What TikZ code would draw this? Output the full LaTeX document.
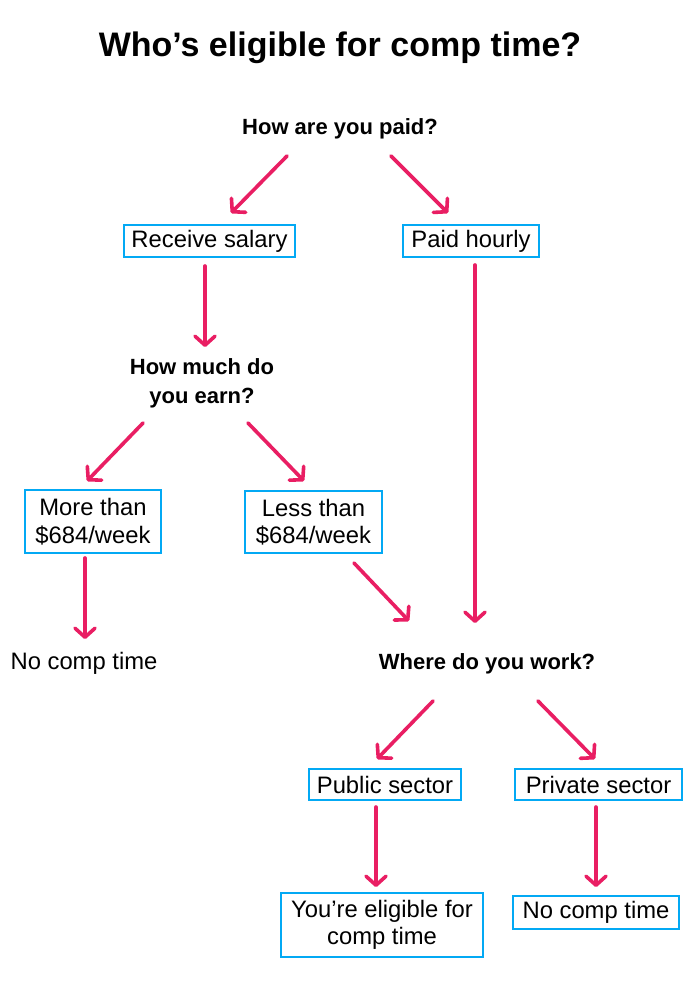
\documentclass[tikz,border=0pt]{standalone}
\usepackage{fontspec}
\setmainfont{Liberation Sans}
\usetikzlibrary{arrows.meta}
\definecolor{arrowpink}{HTML}{E91E63}
\definecolor{boxblue}{HTML}{03A9F4}
\begin{document}
\begin{tikzpicture}[x=1pt,y=-1pt,
  boxnode/.style={draw=boxblue,line width=2.8pt,inner sep=0pt,align=center,
    font=\fontsize{23.8}{27.5}\selectfont},
  question/.style={inner sep=0pt,align=center,font=\bfseries\fontsize{22}{29}\selectfont},
  plain/.style={inner sep=0pt,align=center,font=\fontsize{23.8}{27.5}\selectfont},
  flowarrow/.style={draw=arrowpink,line width=3.6pt,line cap=round,
    -{Straight Barb[length=9pt,width=20pt,round]}}]
\useasboundingbox[fill=white] (0,0) rectangle (700,1001);

\node[inner sep=0pt,font=\bfseries\fontsize{34}{40}\selectfont] (title) at (340,48) {Who’s eligible for comp time?};

\node[question] (paid) at (340,129) {How are you paid?};
\node[boxnode,minimum width=171pt,minimum height=32pt] (salary) at (209.5,241) {Receive salary};
\node[boxnode,minimum width=136pt,minimum height=32pt] (hourly) at (471,241) {Paid hourly};
\node[question] (earn) at (202,383) {How much do\\you earn?};
\node[boxnode,minimum width=136pt,minimum height=63pt] (more) at (93,521.5) {More than\\\$684/week};
\node[boxnode,minimum width=137pt,minimum height=62pt] (less) at (313.5,522) {Less than\\\$684/week};
\node[plain] (nocomp1) at (84,663) {No comp time};
\node[question] (work) at (487,664) {Where do you work?};
\node[boxnode,minimum width=152pt,minimum height=31pt] (public) at (385,784.5) {Public sector};
\node[boxnode,minimum width=167pt,minimum height=31pt] (private) at (598.5,784.5) {Private sector};
\node[boxnode,minimum width=202pt,minimum height=64pt] (eligible) at (382,925) {You’re eligible for\\comp time};
\node[boxnode,minimum width=166pt,minimum height=33pt] (nocomp2) at (596,912.5) {No comp time};

% arrow end points
\coordinate (a1s) at (287,156); \coordinate (a1e) at (231,213);
\coordinate (a2s) at (391,156); \coordinate (a2e) at (448,213);
\coordinate (a3s) at (205,266); \coordinate (a3e) at (205,347);
\coordinate (a4s) at (143,423); \coordinate (a4e) at (87,481);
\coordinate (a5s) at (248,423); \coordinate (a5e) at (304,481);
\coordinate (a6s) at (85,558);  \coordinate (a6e) at (85,639);
\coordinate (a7s) at (354,563); \coordinate (a7e) at (409,621);
\coordinate (a8s) at (475,265); \coordinate (a8e) at (475,623);
\coordinate (a9s) at (433,701); \coordinate (a9e) at (377,759);
\coordinate (a10s) at (538,701); \coordinate (a10e) at (595,759);
\coordinate (a11s) at (376,807); \coordinate (a11e) at (376,887);
\coordinate (a12s) at (596,807); \coordinate (a12e) at (596,887);

\draw[flowarrow] (a1s) -- (a1e);
\draw[flowarrow] (a2s) -- (a2e);
\draw[flowarrow] (a3s) -- (a3e);
\draw[flowarrow] (a4s) -- (a4e);
\draw[flowarrow] (a5s) -- (a5e);
\draw[flowarrow] (a6s) -- (a6e);
\draw[flowarrow] (a7s) -- (a7e);
\draw[flowarrow] (a8s) -- (a8e);
\draw[flowarrow] (a9s) -- (a9e);
\draw[flowarrow] (a10s) -- (a10e);
\draw[flowarrow] (a11s) -- (a11e);
\draw[flowarrow] (a12s) -- (a12e);
\end{tikzpicture}
\end{document}
